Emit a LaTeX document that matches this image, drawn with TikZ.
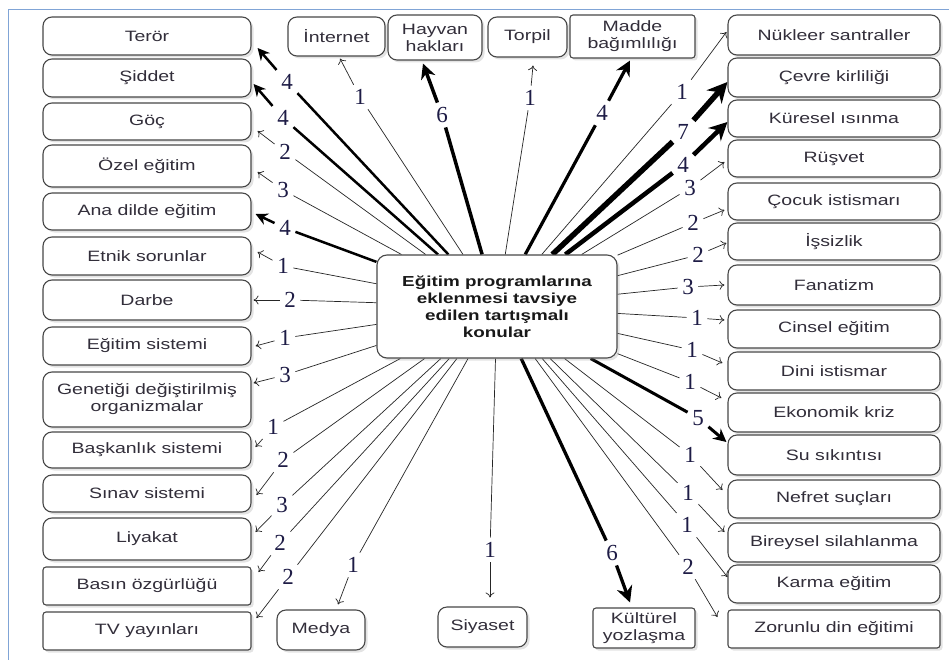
\documentclass[tikz,border=0pt]{standalone}
\usepackage{fontspec}
\setmainfont{Liberation Serif}
\newfontfamily\boxfont{Liberation Sans}[FakeStretch=1.3]
\usetikzlibrary{arrows.meta,shadows,backgrounds}
\pgfdeclarelayer{paper}
\pgfsetlayers{paper,background,main}
\definecolor{framecol}{RGB}{128,164,214}
\definecolor{numcol}{RGB}{30,28,70}
\definecolor{txtcol}{RGB}{50,46,58}
\definecolor{edgecol}{RGB}{72,72,72}
\begin{document}
\begin{tikzpicture}[x=1pt,y=-1pt,
  topic/.style={draw=edgecol, line width=1.1pt, fill=white, rounded corners=9pt,
    inner sep=1pt, align=center, text=txtcol,
    font=\boxfont\fontsize{15}{17}\selectfont,
    drop shadow={shadow xshift=2.5pt, shadow yshift=-2.5pt, opacity=0.22}},
  box/.style 2 args={topic, minimum width=#1pt, minimum height=#2pt},
  lcol/.style={box={208}{#1}},
  rcol/.style={box={212}{#1}},
  sq/.style={rounded corners=3pt},
  hub/.style={box={240}{103}, rounded corners=10pt, text=black!90,
    font=\boxfont\bfseries\fontsize{14.5}{17}\selectfont},
  num/.style={font=\fontsize{23}{23}\selectfont, text=numcol, inner sep=4.5pt},
  link/.style={draw=black!85, line width=0.7pt},
  heavy/.style={draw=black, line width=#1},
  thinhead/.style={-{To[length=5pt,width=9pt]}},
  bighead/.style={-{Stealth[length=#1,width=#1]}},
]
\useasboundingbox (0,0) rectangle (949,660);
\begin{pgfonlayer}{paper}
\fill[white] (0,0) rectangle (949,660);
% frame
\draw[framecol, line width=1.6pt] (8.5,660) -- (8.5,9.5) -- (949,9.5);
\end{pgfonlayer}

% central topic
\node[hub] (c) at (497,306.5) {Eğitim programlarına\\eklenmesi tavsiye\\edilen tartışmalı\\konular};

% left column
\node[lcol=38] (ter) at (147,36) {Terör};
\node[lcol=38] (sid) at (147,78) {Şiddet};
\node[lcol=37] (goc) at (147,121.5) {Göç};
\node[lcol=42] (oze) at (147,166) {Özel eğitim};
\node[lcol=37] (ana) at (147,211.5) {Ana dilde eğitim};
\node[lcol=38] (etn) at (147,256) {Etnik sorunlar};
\node[lcol=40] (dar) at (147,300) {Darbe};
\node[lcol=38] (egs) at (147,346) {Eğitim sistemi};
\node[lcol=55] (gdo) at (147,399.5) {Genetiği değiştirilmiş\\organizmalar};
\node[lcol=36] (bas) at (147,450) {Başkanlık sistemi};
\node[lcol=37] (sin) at (147,493.5) {Sınav sistemi};
\node[lcol=42] (liy) at (147,539) {Liyakat};
\node[lcol=38, sq] (boz) at (147,586) {Basın özgürlüğü};
\node[lcol=38, sq] (tvy) at (147,631) {TV yayınları};

% right column
\node[rcol=40] (nuk) at (834,35) {Nükleer santraller};
\node[rcol=39] (cev) at (834,77.5) {Çevre kirliliği};
\node[rcol=37] (kur) at (834,118.5) {Küresel ısınma};
\node[rcol=37] (rus) at (834,158.5) {Rüşvet};
\node[rcol=37] (coc) at (834,201.5) {Çocuk istismarı};
\node[rcol=37] (iss) at (834,241.5) {İşsizlik};
\node[rcol=40] (fan) at (834,285) {Fanatizm};
\node[rcol=38] (cin) at (834,329) {Cinsel eğitim};
\node[rcol=38] (din) at (834,371) {Dini istismar};
\node[rcol=39] (eko) at (834,412.5) {Ekonomik kriz};
\node[rcol=40] (suk) at (834,455) {Su sıkıntısı};
\node[rcol=38] (nef) at (834,499) {Nefret suçları};
\node[rcol=39] (bir) at (834,542.5) {Bireysel silahlanma};
\node[rcol=38] (kar) at (834,584) {Karma eğitim};
\node[rcol=38, sq] (zor) at (834,629) {Zorunlu din eğitimi};

% top row
\node[box={97}{39}] (int) at (336.5,36.5) {İnternet};
\node[box={94}{45}] (hay) at (435,37.5) {Hayvan\\hakları};
\node[box={79}{40}] (tor) at (527.5,37) {Torpil};
\node[box={125}{43}, sq] (mad) at (632.5,36.5) {Madde\\bağımlılığı};

% bottom row
\node[box={88}{40}] (med) at (321,630) {Medya};
\node[box={89}{40}] (siy) at (482.5,627) {Siyaset};
\node[box={102}{40}, sq] (kul) at (644,628) {Kültürel\\yozlaşma};

% counts and the points where the arrows end
\foreach \t/\a/\sx/\sy/\lx/\ly/\v in {
  ter/east/6/12/287/82/4, sid/east/2/6/283/118/4, goc/east/6/9.5/285/152/2,
  oze/east/6/6/283/190/3, ana/east/4/2.5/285/228/4, etn/east/6/-4/283/266/1,
  dar/east/2/0/290/300/2, egs/east/4/0/285/338/1, gdo/east/2/-16.5/285/375/3,
  bas/east/4/-3/273/427/1, sin/east/5/1.5/283/460/2, liy/east/4/-7/282/505/3,
  boz/east/7/-14/280/543/2, tvy/east/5/-13/288/577/2,
  nuk/west/-1/-3/682/92/1, cev/west/0/4.5/683/132/7, kur/west/0/3.5/683/165/4,
  rus/west/-3/3.5/690/188/3, coc/west/-3/8.5/693/223/2, iss/west/-1/1.5/698/255/2,
  fan/west/-3/0/688/287/3, cin/west/-3/-9/697/318/1, din/west/-5/-8/692/350/1,
  eko/west/-6/-14.5/690/382/1, suk/west/-1/-13/698/418/5, nef/west/-5/-9/690/455/1,
  bir/west/-3/-10.5/688/493/1, kar/west/0/-7/687/525/1, zor/west/-10/-12/688/567/2,
  int/south/3.5/2/360/97/1, hay/south/-12/3/442/115/6, tor/south/5.5/8/530/98/1,
  mad/south/-2.5/2/602/113/4,
  med/north/17/-5/353/565/1, siy/north/7.5/-9/490/550/1, kul/north/-14/-5/612/553/6}{
  \coordinate (\t-in) at ([shift={(\sx,\sy)}]\t.\a);
  \node[num] (\t-n) at (\lx,\ly) {\v};
}

\begin{pgfonlayer}{background}
% single-count links
\foreach \t in {goc,oze,etn,dar,egs,gdo,bas,sin,liy,boz,tvy,
                nuk,rus,coc,iss,fan,cin,din,eko,nef,bir,kar,zor,
                int,tor,med,siy}{
  \draw[link] (c) -- (\t-n);
  \draw[link, thinhead] (\t-n) -- (\t-in);
}
% heavy links
\foreach \t/\w/\h in {ter/2.5/12, sid/2.5/12, ana/2.5/12, hay/3.5/15, mad/3.2/15,
                      cev/5.5/20, kur/4.5/18, suk/3/13, kul/3.3/16}{
  \draw[heavy=\w pt] (c) -- (\t-n);
  \draw[heavy=\w pt, bighead=\h pt] (\t-n) -- (\t-in);
}
\end{pgfonlayer}
\end{tikzpicture}
\end{document}
